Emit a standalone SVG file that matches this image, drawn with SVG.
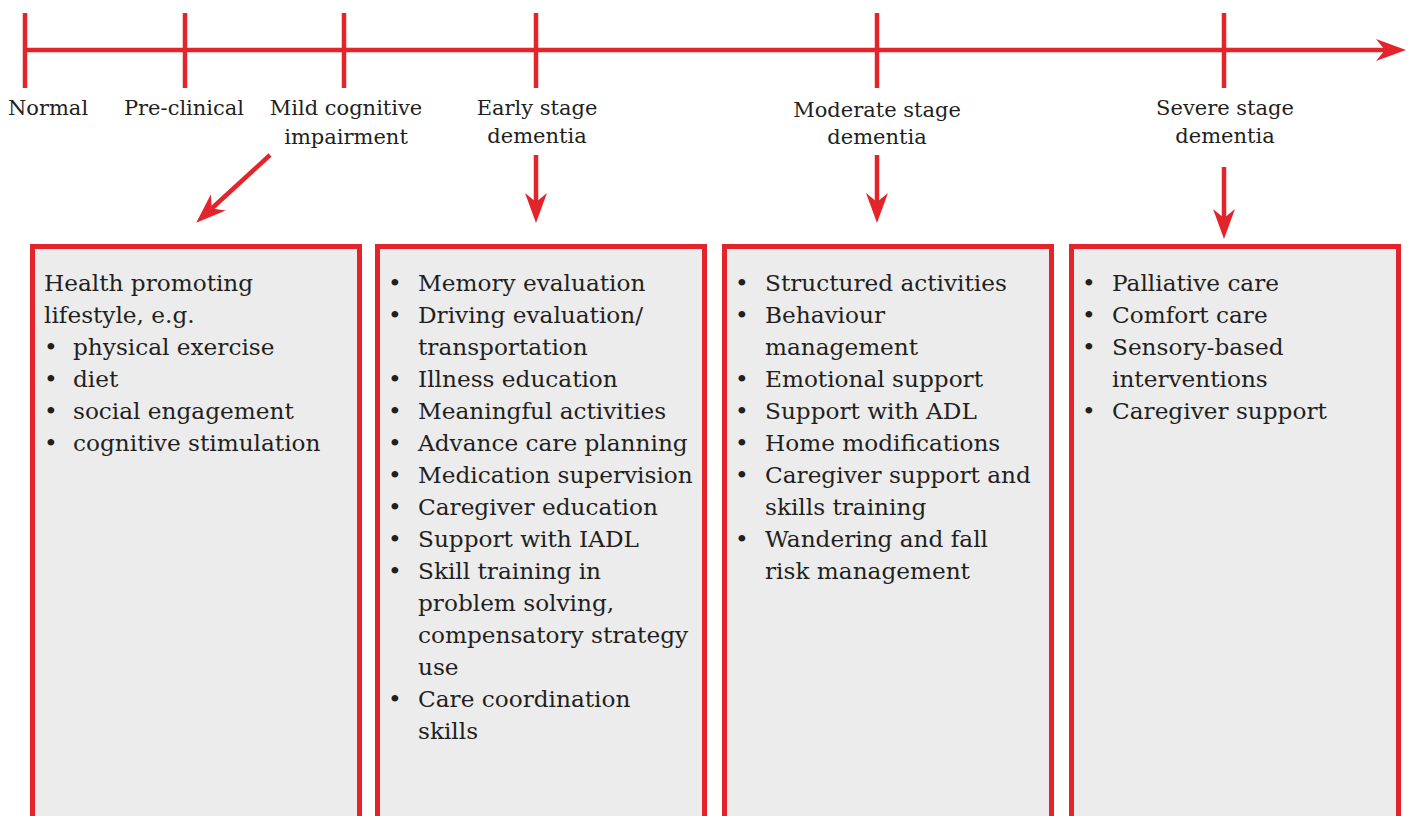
<svg xmlns="http://www.w3.org/2000/svg" width="1411" height="816" viewBox="0 0 1411 816">
<style>
.ln{stroke:#e3242b;stroke-width:4.5;fill:none}
.box{fill:#ececec;stroke:#e3242b;stroke-width:5}
.t{font-family:"DejaVu Serif","Liberation Serif",serif;font-size:23.2px;fill:#231f20}
.lbl{font-family:"DejaVu Serif","Liberation Serif",serif;font-size:21px;fill:#231f20;text-anchor:middle}
</style>
<defs>
<marker id="ah" markerUnits="userSpaceOnUse" markerWidth="32" markerHeight="26" refX="0" refY="0" orient="auto" overflow="visible" viewBox="-10 -12 32 24">
<path d="M-9,-11 L21,0 L-9,11 L0,0 z" fill="#e3242b"/>
</marker>
</defs>
<rect width="1411" height="816" fill="#ffffff"/>
<g id="connectors">
<line class="ln" x1="24" y1="50" x2="1385" y2="50" marker-end="url(#ah)"/>
<line class="ln" x1="25" y1="13" x2="25" y2="88"/>
<line class="ln" x1="185" y1="13" x2="185" y2="88"/>
<line class="ln" x1="344" y1="13" x2="344" y2="88"/>
<line class="ln" x1="536" y1="13" x2="536" y2="88"/>
<line class="ln" x1="877" y1="13" x2="877" y2="88"/>
<line class="ln" x1="1224" y1="13" x2="1224" y2="88"/>
<line class="ln" x1="270" y1="155" x2="211.7" y2="208.5" marker-end="url(#ah)"/>
<line class="ln" x1="536" y1="155" x2="536" y2="202" marker-end="url(#ah)"/>
<line class="ln" x1="877" y1="155" x2="877" y2="202" marker-end="url(#ah)"/>
<line class="ln" x1="1224" y1="167" x2="1224" y2="218" marker-end="url(#ah)"/>
</g>
<g id="labels">
<text class="lbl" x="48" y="115">Normal</text>
<text class="lbl" x="184" y="115">Pre-clinical</text>
<text class="lbl" x="346" y="115">Mild cognitive</text>
<text class="lbl" x="346" y="144">impairment</text>
<text class="lbl" x="537" y="115">Early stage</text>
<text class="lbl" x="537" y="143">dementia</text>
<text class="lbl" x="877" y="117">Moderate stage</text>
<text class="lbl" x="877" y="144">dementia</text>
<text class="lbl" x="1225" y="115">Severe stage</text>
<text class="lbl" x="1225" y="143">dementia</text>
</g>
<g id="box1">
<rect class="box" x="32.5" y="246.5" width="327" height="600"/>
<text class="t" x="44" y="291">Health promoting</text>
<text class="t" x="44" y="323">lifestyle, e.g.</text>
<text class="t" x="44" y="355">•</text><text class="t" x="73" y="355">physical exercise</text>
<text class="t" x="44" y="387">•</text><text class="t" x="73" y="387">diet</text>
<text class="t" x="44" y="419">•</text><text class="t" x="73" y="419">social engagement</text>
<text class="t" x="44" y="451">•</text><text class="t" x="73" y="451">cognitive stimulation</text>
</g>
<g id="box2">
<rect class="box" x="377.5" y="246.5" width="327" height="600"/>
<text class="t" x="388" y="291">•</text><text class="t" x="418" y="291">Memory evaluation</text>
<text class="t" x="388" y="323">•</text><text class="t" x="418" y="323">Driving evaluation/</text>
<text class="t" x="418" y="355">transportation</text>
<text class="t" x="388" y="387">•</text><text class="t" x="418" y="387">Illness education</text>
<text class="t" x="388" y="419">•</text><text class="t" x="418" y="419">Meaningful activities</text>
<text class="t" x="388" y="451">•</text><text class="t" x="418" y="451">Advance care planning</text>
<text class="t" x="388" y="483">•</text><text class="t" x="418" y="483">Medication supervision</text>
<text class="t" x="388" y="515">•</text><text class="t" x="418" y="515">Caregiver education</text>
<text class="t" x="388" y="547">•</text><text class="t" x="418" y="547">Support with IADL</text>
<text class="t" x="388" y="579">•</text><text class="t" x="418" y="579">Skill training in</text>
<text class="t" x="418" y="611">problem solving,</text>
<text class="t" x="418" y="643">compensatory strategy</text>
<text class="t" x="418" y="675">use</text>
<text class="t" x="388" y="707">•</text><text class="t" x="418" y="707">Care coordination</text>
<text class="t" x="418" y="739">skills</text>
</g>
<g id="box3">
<rect class="box" x="724.5" y="246.5" width="327" height="600"/>
<text class="t" x="735" y="291">•</text><text class="t" x="765" y="291">Structured activities</text>
<text class="t" x="735" y="323">•</text><text class="t" x="765" y="323">Behaviour</text>
<text class="t" x="765" y="355">management</text>
<text class="t" x="735" y="387">•</text><text class="t" x="765" y="387">Emotional support</text>
<text class="t" x="735" y="419">•</text><text class="t" x="765" y="419">Support with ADL</text>
<text class="t" x="735" y="451">•</text><text class="t" x="765" y="451">Home modifications</text>
<text class="t" x="735" y="483">•</text><text class="t" x="765" y="483">Caregiver support and</text>
<text class="t" x="765" y="515">skills training</text>
<text class="t" x="735" y="547">•</text><text class="t" x="765" y="547">Wandering and fall</text>
<text class="t" x="765" y="579">risk management</text>
</g>
<g id="box4">
<rect class="box" x="1071.5" y="246.5" width="327" height="600"/>
<text class="t" x="1082" y="291">•</text><text class="t" x="1112" y="291">Palliative care</text>
<text class="t" x="1082" y="323">•</text><text class="t" x="1112" y="323">Comfort care</text>
<text class="t" x="1082" y="355">•</text><text class="t" x="1112" y="355">Sensory-based</text>
<text class="t" x="1112" y="387">interventions</text>
<text class="t" x="1082" y="419">•</text><text class="t" x="1112" y="419">Caregiver support</text>
</g>
</svg>
